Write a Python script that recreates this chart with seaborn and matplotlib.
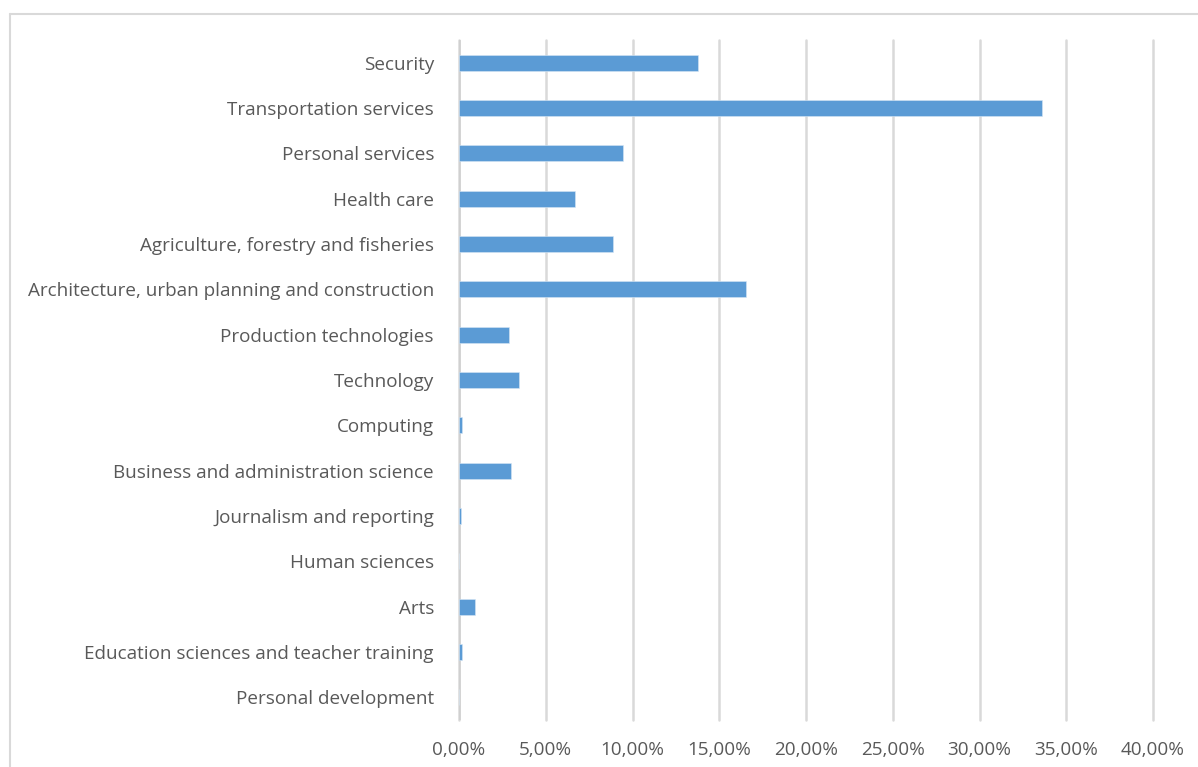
import matplotlib
matplotlib.use("Agg")
import matplotlib.pyplot as plt
from matplotlib.lines import Line2D
from matplotlib.ticker import FuncFormatter, MultipleLocator
import seaborn as sns
import pandas as pd

categories = [
    "Security",
    "Transportation services",
    "Personal services",
    "Health care",
    "Agriculture, forestry and fisheries",
    "Architecture, urban planning and construction",
    "Production technologies",
    "Technology",
    "Computing",
    "Business and administration science",
    "Journalism and reporting",
    "Human sciences",
    "Arts",
    "Education sciences and teacher training",
    "Personal development",
]
shares = [13.78, 33.60, 9.45, 6.69, 8.87, 16.54, 2.88, 3.44, 0.20, 3.00,
          0.09, 0.0, 0.90, 0.15, 0.0]

df = pd.DataFrame({"category": categories, "share": shares})

sns.set_theme(style="white")
plt.rcParams["font.family"] = ["Open Sans", "DejaVu Sans"]

W, H = 1198, 767
fig = plt.figure(figsize=(W / 100, H / 100), dpi=100)
ax = fig.add_axes([459 / W, 1 - 720 / H, (1153 - 459) / W, (720 - 40) / H])

sns.barplot(data=df, x="share", y="category", orient="h", color="#5B9BD5",
            saturation=1, width=0.35, edgecolor="#d6e6f5", linewidth=0.4,
            ax=ax, zorder=3)

ax.set_xlim(0, 40)
ax.set_ylim(len(categories) - 0.5, -0.5)
ax.xaxis.set_major_locator(MultipleLocator(5))
ax.xaxis.set_major_formatter(FuncFormatter(lambda v, p: f"{v:.2f}".replace(".", ",") + "%"))
ax.grid(axis="x", color="#d9d9d9", linewidth=1.8, zorder=0)
ax.grid(axis="y", visible=False)
for gl in ax.get_xgridlines():
    gl.set_clip_on(False)
for s in ax.spines.values():
    s.set_visible(False)
ax.axvline(0, color="#d0d0d0", linewidth=1.8, zorder=1)

ax.set_xlabel("")
ax.set_ylabel("")
ax.tick_params(axis="x", length=0, pad=15, labelsize=13.6, labelcolor="#595959")
ax.tick_params(axis="y", length=0, pad=18, labelsize=13.6, labelcolor="#595959")

# chart frame (top and left edges)
fig.add_artist(Line2D([9.5 / W, 9.5 / W], [0, 1 - 13.5 / H], transform=fig.transFigure,
                      color="#d9d9d9", linewidth=1.5))
fig.add_artist(Line2D([9.5 / W, 1], [1 - 13.5 / H, 1 - 13.5 / H], transform=fig.transFigure,
                      color="#d9d9d9", linewidth=1.5))

fig.savefig("out.png", dpi=100, facecolor="white")
